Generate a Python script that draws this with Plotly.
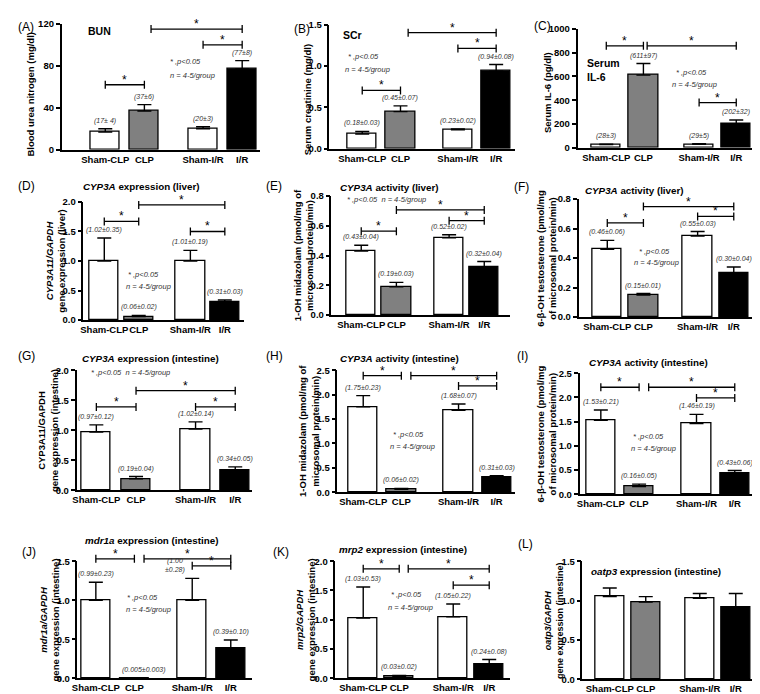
import plotly.graph_objects as go

W, H = 760, 694
FONT = "Liberation Sans, Arial, sans-serif"

CATEGORIES = ["Sham-CLP", "CLP", "Sham-I/R", "I/R"]
GROUP_COLORS = ["white", "#808080", "white", "black"]
X_POS = [0, 1, 2.5, 3.5]

# ---- data (mean, error, value labels) ----
BUN_MEAN = [17, 37, 20, 77]
BUN_ERR = [3, 6, 2, 8]
BUN_LABELS = ["(17± 4)", "(37±6)", "(20±3)", "(77±8)"]

SCR_MEAN = [0.18, 0.45, 0.23, 0.94]
SCR_ERR = [0.03, 0.07, 0.01, 0.08]
SCR_LABELS = ["(0.18±0.03)", "(0.45±0.07)", "(0.23±0.02)", "(0.94±0.08)"]

IL6_MEAN = [28, 611, 29, 202]
IL6_ERR = [3, 97, 5, 32]
IL6_LABELS = ["(28±3)", "(611±97)", "(29±5)", "(202±32)"]

LIV_EXP_MEAN = [1.00, 0.06, 1.00, 0.31]
LIV_EXP_ERR = [0.39, 0.02, 0.18, 0.03]
LIV_EXP_LABELS = ["(1.02±0.35)", "(0.06±0.02)", "(1.01±0.19)", "(0.31±0.03)"]

LIV_MDZ_MEAN = [0.43, 0.19, 0.52, 0.32]
LIV_MDZ_ERR = [0.04, 0.03, 0.02, 0.04]
LIV_MDZ_LABELS = ["(0.43±0.04)", "(0.19±0.03)", "(0.52±0.02)", "(0.32±0.04)"]

LIV_TST_MEAN = [0.46, 0.15, 0.55, 0.30]
LIV_TST_ERR = [0.06, 0.01, 0.03, 0.04]
LIV_TST_LABELS = ["(0.46±0.06)", "(0.15±0.01)", "(0.55±0.03)", "(0.30±0.04)"]

INT_EXP_MEAN = [0.97, 0.19, 1.02, 0.34]
INT_EXP_ERR = [0.12, 0.04, 0.12, 0.05]
INT_EXP_LABELS = ["(0.97±0.12)", "(0.19±0.04)", "(1.02±0.14)", "(0.34±0.05)"]

INT_MDZ_MEAN = [1.75, 0.06, 1.68, 0.31]
INT_MDZ_ERR = [0.23, 0.02, 0.13, 0.03]
INT_MDZ_LABELS = ["(1.75±0.23)", "(0.06±0.02)", "(1.68±0.07)", "(0.31±0.03)"]

INT_TST_MEAN = [1.53, 0.16, 1.46, 0.43]
INT_TST_ERR = [0.21, 0.05, 0.19, 0.06]
INT_TST_LABELS = ["(1.53±0.21)", "(0.16±0.05)", "(1.46±0.19)", "(0.43±0.06)"]

MDR1A_MEAN = [1.00, 0.005, 1.00, 0.39]
MDR1A_ERR = [0.23, 0.003, 0.28, 0.10]
MDR1A_LABELS = ["(0.99±0.23)", "(0.005±0.003)", "(1.00<br>±0.28)", "(0.39±0.10)"]

MRP2_MEAN = [1.03, 0.03, 1.05, 0.24]
MRP2_ERR = [0.53, 0.02, 0.22, 0.08]
MRP2_LABELS = ["(1.03±0.53)", "(0.03±0.02)", "(1.05±0.22)", "(0.24±0.08)"]

OATP3_MEAN = [1.05, 0.98, 1.03, 0.91]
OATP3_ERR = [0.11, 0.07, 0.06, 0.18]

P_TEXT = "* ,p&lt;0.05"
N_TEXT = "n = 4-5/group"


def px(x):
    return x / W


def py(y):
    return 1 - y / H


PANELS = [
    dict(letter="(A)", lpos=(2, 13), mean=BUN_MEAN, err=BUN_ERR, labels=BUN_LABELS,
         xd=(48, 248), c=(92, 230), yd=(10, 138), yr=120, dt=40, fmt="d",
         ytitle="Blood urea nitrogen (mg/dl)", yt_x=17, yt_dy=7,
         title="BUN", tpos=(73, 17),
         ptext=[(P_TEXT, 155, 48), (N_TEXT, 155, 62)],
         br=[(0, 1, 62, 0), (2, 3, 100, 0), (1, 3, 115, 0.17)]),
    dict(letter="(B)", lpos=(280, 15), mean=SCR_MEAN, err=SCR_ERR, labels=SCR_LABELS,
         xd=(318, 505), c=(351, 486), yd=(11, 137), yr=1.5, dt=0.5, fmt=".1f",
         ytitle="Serum creatinine (mg/dl)", yt_x=296, yt_dy=13,
         title="SCr", tpos=(330, 21),
         ptext=[(P_TEXT, 335, 43), (N_TEXT, 332, 56)],
         br=[(0, 1, 0.706, 0), (2, 3, 1.214, 0), (1, 3, 1.405, 0.2)]),
    dict(letter="(C)", lpos=(522, 12), mean=IL6_MEAN, err=IL6_ERR, labels=IL6_LABELS,
         xd=(568, 748), c=(597, 728), yd=(15, 136), yr=1000, dt=200, fmt="d",
         ytitle="Serum IL-6 (pg/dl)", yt_x=537, yt_dy=4,
         title="Serum<br>IL-6", tpos=(576, 57),
         ptext=[(P_TEXT, 665, 59), (N_TEXT, 661, 72)],
         br=[(0, 1, 857, 0), (2, 3, 380, 0), (1, 3, 857, 0.1)]),
    dict(letter="(D)", lpos=(2, 175), mean=LIV_EXP_MEAN, err=LIV_EXP_ERR, labels=LIV_EXP_LABELS,
         xd=(70, 232), c=(91, 212.5), yd=(191, 311), yr=2.0, dt=0.5, fmt=".1f",
         ytitle="<i>CYP3A11/GAPDH</i><br>gene expression (liver)", yt_x=41, yt_dy=0,
         title="<i>CYP3A</i> expression (liver)", tpos=(68, 175),
         ptext=[(P_TEXT, 113, 265), (N_TEXT, 111, 277)],
         br=[(0, 1, 1.67, 0), (2, 3, 1.5, 0), (1, 3, 1.95, 0)]),
    dict(letter="(E)", lpos=(252, 175), mean=LIV_MDZ_MEAN, err=LIV_MDZ_ERR, labels=LIV_MDZ_LABELS,
         xd=(320, 500), c=(350, 474), yd=(185, 306), yr=0.8, dt=0.2, fmt=".1f",
         ytitle="1-OH midazolam (pmol/mg of<br>microsomal protein/min)", yt_x=292, yt_dy=0,
         title="<i>CYP3A</i> activity (liver)", tpos=(327, 176),
         ptext=[(P_TEXT + "  " + N_TEXT, 334, 188)],
         br=[(0, 1, 0.564, 0), (2, 3, 0.635, 0), (1, 3, 0.707, 0)]),
    dict(letter="(F)", lpos=(502, 176), mean=LIV_TST_MEAN, err=LIV_TST_ERR, labels=LIV_TST_LABELS,
         xd=(569, 748), c=(598, 725.5), yd=(188, 308), yr=0.8, dt=0.2, fmt=".1f",
         ytitle="6-\u03b2-OH testosterone (pmol/mg<br>of microsomal protein/min)", yt_x=536, yt_dy=0,
         title="<i>CYP3A</i> activity (liver)", tpos=(574, 179),
         ptext=[(P_TEXT, 628, 241), (N_TEXT, 623, 253)],
         br=[(0, 1, 0.638, 0), (2, 3, 0.682, 0), (1, 3, 0.749, 0)]),
    dict(letter="(G)", lpos=(2, 347), mean=INT_EXP_MEAN, err=INT_EXP_ERR, labels=INT_EXP_LABELS,
         xd=(63, 240), c=(83, 223), yd=(362, 484), yr=2.0, dt=0.5, fmt=".1f",
         ytitle="CYP3A11/GAPDH<br>gene expression (intestine)", yt_x=34, yt_dy=0,
         title="<i>CYP3A</i> expression (intestine)", tpos=(67, 350),
         ptext=[(P_TEXT + "  " + N_TEXT, 76, 364)],
         br=[(0, 1, 1.39, 0), (2, 3, 1.39, 0), (1, 3, 1.66, 0)]),
    dict(letter="(H)", lpos=(252, 347), mean=INT_MDZ_MEAN, err=INT_MDZ_ERR, labels=INT_MDZ_LABELS,
         xd=(326, 505), c=(352, 486.5), yd=(362, 486), yr=2.5, dt=0.5, fmt=".1f",
         ytitle="1-OH midazolam (pmol/mg of<br>microsomal protein/min)", yt_x=297, yt_dy=0,
         title="<i>CYP3A</i> activity (intestine)", tpos=(327, 350),
         ptext=[(P_TEXT, 380, 427), (N_TEXT, 377, 439)],
         br=[(0, 1, 2.39, 0), (2, 3, 2.18, 0), (1, 3, 2.39, 0.25)]),
    dict(letter="(I)", lpos=(505, 347), mean=INT_TST_MEAN, err=INT_TST_ERR, labels=INT_TST_LABELS,
         xd=(570, 748), c=(591.5, 726.5), yd=(365, 488), yr=2.5, dt=0.5, fmt=".1f",
         ytitle="6-\u03b2-OH testosterone (pmol/mg<br>of microsomal protein/min)", yt_x=537, yt_dy=0,
         title="<i>CYP3A</i> activity (intestine)", tpos=(578, 354),
         ptext=[(P_TEXT, 622, 429), (N_TEXT, 620, 441)],
         br=[(0, 1, 2.21, 0), (2, 3, 1.99, 0), (1, 3, 2.21, 0.25)]),
    dict(letter="(J)", lpos=(6, 547), mean=MDR1A_MEAN, err=MDR1A_ERR, labels=MDR1A_LABELS,
         xd=(64, 240), c=(82.5, 218.5), yd=(556, 675), yr=1.5, dt=0.5, fmt=".1f",
         ytitle="<i>mdr1a/GAPDH</i><br>gene expression (intestine)", yt_x=36, yt_dy=0,
         title="<i>mdr1a</i> expression (intestine)", tpos=(70, 535),
         ptext=[(P_TEXT, 112, 593), (N_TEXT, 111, 605)],
         br=[(0, 1, 1.53, 0), (2, 3, 1.44, 0), (1, 3, 1.53, 0.25)]),
    dict(letter="(K)", lpos=(259, 547), mean=MRP2_MEAN, err=MRP2_ERR, labels=MRP2_LABELS,
         xd=(324, 500), c=(352, 479), yd=(556, 675), yr=2.0, dt=0.5, fmt=".1f",
         ytitle="<i>mrp2/GAPDH</i><br>gene expression (intestine)", yt_x=294, yt_dy=0,
         title="<i>mrp2</i> expression (intestine)", tpos=(326, 544),
         ptext=[(P_TEXT, 378, 590), (N_TEXT, 375, 603)],
         br=[(0, 1, 1.87, 0), (2, 3, 1.59, 0), (1, 3, 1.87, 0.25)]),
    dict(letter="(L)", lpos=(506, 539), mean=OATP3_MEAN, err=OATP3_ERR, labels=None,
         xd=(573, 750), c=(600.5, 727.5), yd=(556, 676), yr=1.5, dt=0.5, fmt=".1f",
         ytitle="<i>oatp3/GAPDH</i><br>gene expression (intestine)", yt_x=545, yt_dy=0,
         title="<i>oatp3</i> expression (intestine)", tpos=(580, 566),
         ptext=[], br=[]),
]

fig = go.Figure()
shapes = []
annots = []
layout = {}

for k, p in enumerate(PANELS, start=1):
    xa = "x" if k == 1 else f"x{k}"
    ya = "y" if k == 1 else f"y{k}"
    xname = "xaxis" if k == 1 else f"xaxis{k}"
    yname = "yaxis" if k == 1 else f"yaxis{k}"
    L, R = p["xd"]
    c1, c4 = p["c"]
    u = (c4 - c1) / (X_POS[3] - X_POS[0])
    xr = [X_POS[0] - (c1 - L) / u, X_POS[3] + (R - c4) / u]
    bw = 29.5 / u
    top, bot = p["yd"]

    def ypaper(v, top=top, bot=bot, yr=p["yr"]):
        # linear y scale of this subplot, in paper units (for brackets above the axis top)
        return py(bot) + v / yr * (py(top) - py(bot))

    fig.add_trace(go.Bar(
        x=X_POS, y=p["mean"], width=bw,
        marker=dict(color=GROUP_COLORS, line=dict(color="black", width=1.3)),
        error_y=dict(type="data", symmetric=False, array=p["err"],
                     arrayminus=[0] * 4, color="black", thickness=1.4, width=7),
        xaxis=xa, yaxis=ya, showlegend=False, hoverinfo="skip"))

    layout[xname] = dict(domain=[px(L), px(R)], range=xr, anchor=ya,
                         showline=True, linecolor="black", linewidth=1.5,
                         showgrid=False, zeroline=False, ticks="", tickangle=0,
                         tickvals=X_POS, ticktext=CATEGORIES,
                         tickfont=dict(family=FONT, size=9.5, color="black", weight="bold"),
                         fixedrange=True)
    layout[yname] = dict(domain=[py(bot), py(top)], range=[0, p["yr"]], anchor=xa,
                         showline=True, linecolor="black", linewidth=1.5,
                         showgrid=False, zeroline=False, ticks="outside",
                         ticklen=4, tickwidth=1.5, tickcolor="black",
                         dtick=p["dt"], tick0=0, tickformat=p["fmt"],
                         tickfont=dict(family=FONT, size=9.5, color="black", weight="bold"),
                         fixedrange=True)

    # value labels
    if p["labels"]:
        for i in range(4):
            xs = 0
            if p["letter"] == "(J)" and i == 2:
                xs = -17
            if p["letter"] == "(J)" and i == 1:
                xs = 10
            annots.append(dict(x=X_POS[i], y=p["mean"][i] + p["err"][i], xref=xa, yref=ya,
                               text="<i>" + p["labels"][i] + "</i>", showarrow=False,
                               yanchor="bottom", xshift=xs, yshift=2,
                               font=dict(family=FONT, size=7, color="#333")))

    # significance brackets
    for (i, j, yb, off) in p["br"]:
        x0 = X_POS[i] + off
        x1 = X_POS[j]
        yp = ypaper(yb)
        shapes.append(dict(type="line", xref=xa, yref="paper", x0=x0, x1=x1, y0=yp, y1=yp,
                           line=dict(color="black", width=1.3)))
        for xe in (x0, x1):
            shapes.append(dict(type="line", xref=xa, yref="paper", x0=xe, x1=xe,
                               ysizemode="pixel", yanchor=yp, y0=-4, y1=4,
                               line=dict(color="black", width=1.3)))
        annots.append(dict(x=(x0 + x1) / 2, y=yp, xref=xa, yref="paper", text="*",
                           showarrow=False, yanchor="bottom", yshift=-4,
                           font=dict(family=FONT, size=12, color="black")))

    # p-value texts
    for (t, tx, ty) in p["ptext"]:
        annots.append(dict(x=px(tx), y=py(ty), xref="paper", yref="paper",
                           text="<i>" + t + "</i>", showarrow=False,
                           xanchor="left", yanchor="middle",
                           font=dict(family=FONT, size=7.5, color="#333")))

    # panel letter
    lx, ly = p["lpos"]
    annots.append(dict(x=px(lx), y=py(ly), xref="paper", yref="paper", text=p["letter"],
                       showarrow=False, xanchor="left", yanchor="middle",
                       font=dict(family=FONT, size=12, color="black")))

    # title
    tx, ty = p["tpos"]
    annots.append(dict(x=px(tx), y=py(ty), xref="paper", yref="paper", text="<b>" + p["title"] + "</b>",
                       showarrow=False, xanchor="left", yanchor="middle", align="left",
                       font=dict(family=FONT, size=10.5 if p["letter"] in "(A)(B)(C)" else 9.8,
                                 color="black")))

    # y title
    annots.append(dict(x=px(p["yt_x"]), y=py((top + bot) / 2 + p["yt_dy"]), xref="paper", yref="paper",
                       text="<b>" + p["ytitle"] + "</b>", textangle=-90, showarrow=False,
                       xanchor="center", yanchor="middle",
                       font=dict(family=FONT, size=9.5 if p["letter"] != "(L)" else 9,
                                 color="black")))

fig.update_layout(
    width=W, height=H, margin=dict(l=0, r=0, t=0, b=0),
    paper_bgcolor="white", plot_bgcolor="white",
    bargap=0, shapes=shapes, annotations=annots,
    font=dict(family=FONT, color="black"),
    **layout)

fig.write_html("out.html")
